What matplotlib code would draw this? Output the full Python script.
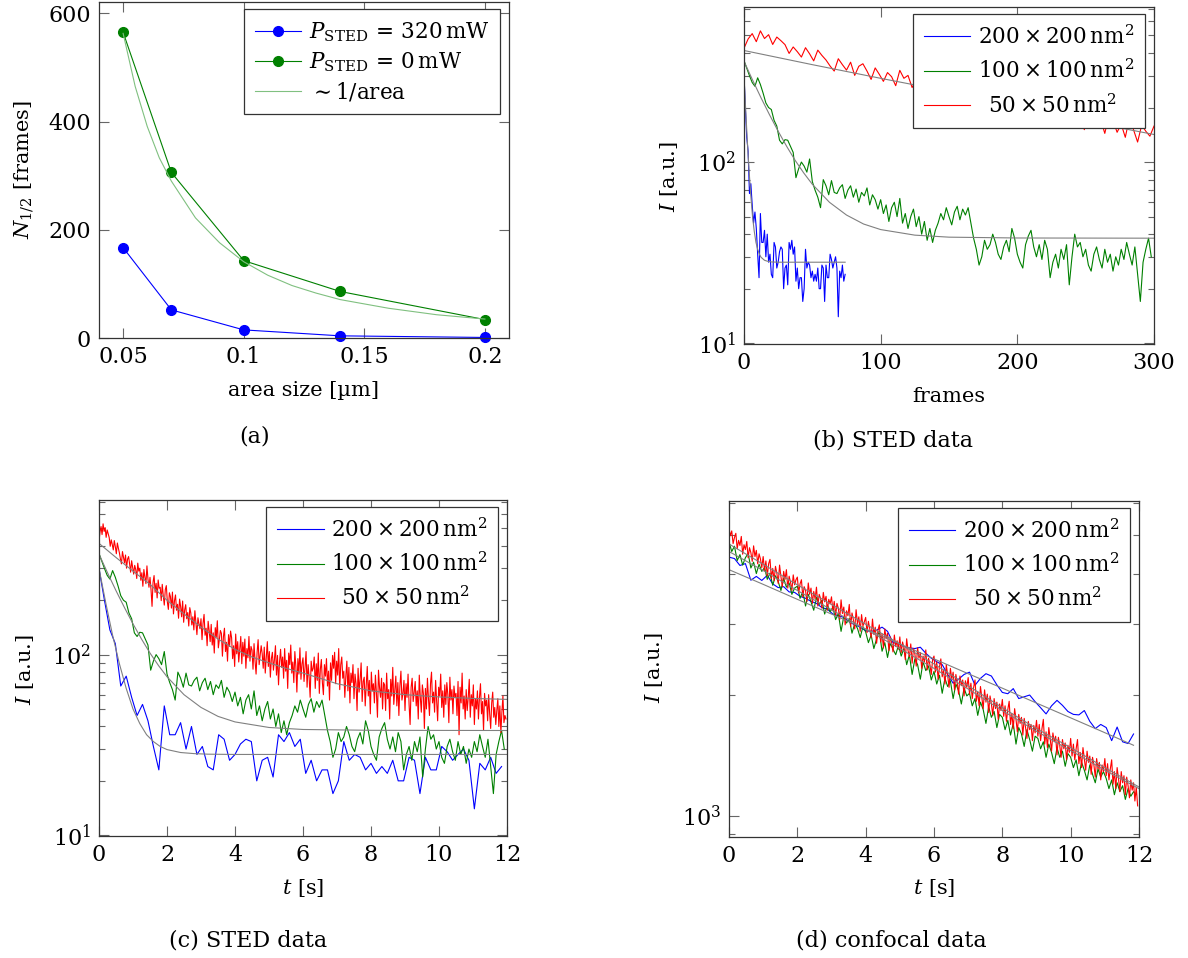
import numpy as np
import matplotlib
matplotlib.use("Agg")
import matplotlib.pyplot as plt
from matplotlib.ticker import FixedLocator, LogLocator, NullFormatter

plt.rcParams['font.family'] = ['DejaVu Serif']
plt.rcParams['mathtext.fontset'] = 'dejavuserif'
plt.rcParams['font.size'] = 15

# ---- (a) half-bleaching number vs. area size ----
area_size = [0.05, 0.07, 0.1, 0.14, 0.2]
n_half_320mw = [167, 52, 15, 4, 1]
n_half_0mw = [565, 306, 143, 86, 34]
inv_area_x = [0.05, 0.055, 0.06, 0.065, 0.07, 0.08, 0.09, 0.1, 0.11, 0.12, 0.13, 0.14, 0.16, 0.18, 0.2]
inv_area_y = [563, 465, 391, 333, 290, 222, 176, 141, 116, 97, 83, 71, 55, 43, 35]

# ---- STED traces (b, c) ----
dt_blue, dt_green, dt_red = 0.16, 0.04, 0.01   # s per frame
green_step, red_step = 2, 3                     # frames between stored samples

blue_sted = [300, 200, 137, 115, 67, 76, 58, 46, 53, 43,
             31, 23, 52, 36, 36, 42, 30, 40, 28, 31,
             24, 23, 36, 34, 26, 28, 32, 34, 33, 20,
             26, 27, 21, 36, 33, 37, 31, 34, 22, 26,
             20, 23, 23, 17, 20, 33, 26, 28, 27, 23,
             25, 22, 24, 22, 26, 20, 20, 27, 26, 17,
             27, 23, 23, 31, 29, 26, 28, 30, 26, 14,
             25, 23, 27, 22, 24]

green_sted = [363, 330, 300, 275, 262, 292, 268, 240, 212, 200,
              195, 170, 158, 132, 126, 133, 132, 122, 113, 82,
              92, 100, 95, 88, 104, 78, 70, 64, 56, 80,
              74, 66, 79, 68, 67, 72, 75, 63, 70, 74,
              64, 71, 60, 68, 65, 72, 58, 66, 62, 55,
              62, 52, 58, 47, 56, 60, 50, 63, 46, 52,
              43, 50, 55, 44, 50, 40, 47, 37, 43, 36,
              42, 46, 52, 48, 56, 50, 45, 53, 57, 48,
              55, 51, 56, 46, 38, 33, 27, 30, 37, 33,
              35, 40, 36, 31, 29, 34, 37, 32, 43, 38,
              31, 28, 26, 35, 39, 42, 34, 30, 35, 29,
              37, 33, 23, 28, 31, 26, 33, 29, 35, 21,
              30, 40, 34, 36, 30, 33, 27, 25, 31, 34,
              29, 26, 33, 28, 31, 25, 30, 27, 33, 29,
              36, 31, 27, 34, 24, 17, 28, 33, 38, 30]

red_sted = [425, 478, 512, 462, 530, 481, 505, 446, 490, 468,
            445, 398, 432, 407, 380, 428, 396, 362, 415, 388,
            366, 339, 318, 372, 345, 322, 356, 301, 338, 349,
            318, 286, 331, 305, 279, 312, 296, 264, 321, 290,
            301, 258, 284, 239, 296, 268, 247, 310, 262, 236,
            268, 229, 185, 252, 274, 221, 248, 206, 259, 233,
            236, 199, 245, 212, 188, 229, 241, 196, 178, 220,
            210, 181, 222, 168, 199, 214, 176, 190, 159, 203,
            185, 162, 198, 151, 177, 189, 158, 171, 144, 182,
            170, 146, 162, 137, 175, 151, 129, 160, 148, 139,
            158, 121, 149, 167, 128, 140, 112, 153, 136, 118,
            147, 113, 132, 102, 141, 125, 154, 109, 121, 136,
            131, 98, 126, 140, 104, 117, 92, 129, 111, 135,
            124, 95, 112, 86, 130, 101, 118, 91, 107, 126,
            89, 117, 98, 122, 84, 108, 96, 126, 92, 111,
            106, 83, 115, 92, 78, 103, 121, 88, 99, 112,
            101, 84, 110, 79, 97, 118, 86, 104, 75, 95,
            103, 82, 94, 112, 77, 99, 68, 91, 107, 85,
            97, 74, 108, 81, 93, 65, 102, 88, 113, 79,
            91, 70, 104, 86, 62, 95, 78, 109, 73, 89,
            96, 71, 85, 104, 66, 88, 75, 58, 92, 81,
            84, 97, 65, 89, 72, 102, 61, 83, 94, 70,
            60, 88, 76, 95, 67, 81, 56, 90, 72, 99,
            84, 103, 69, 92, 77, 108, 64, 88, 97, 74,
            81, 58, 76, 92, 63, 85, 54, 79, 70, 88,
            57, 78, 69, 49, 84, 62, 73, 90, 55, 71,
            75, 52, 68, 86, 59, 72, 47, 80, 63, 69,
            54, 77, 61, 45, 82, 66, 58, 74, 50, 70,
            68, 49, 79, 57, 64, 44, 73, 59, 85, 53,
            63, 76, 52, 70, 46, 67, 81, 56, 61, 72,
            49, 69, 58, 78, 53, 41, 66, 74, 55, 62,
            71, 52, 63, 44, 77, 58, 48, 68, 61, 39,
            65, 50, 74, 57, 46, 69, 80, 54, 62, 48,
            72, 55, 43, 66, 59, 78, 51, 63, 45, 68,
            53, 70, 60, 42, 75, 56, 64, 47, 67, 58,
            61, 46, 71, 36, 66, 54, 79, 50, 59, 44,
            64, 49, 58, 73, 45, 60, 52, 68, 41, 57,
            50, 63, 44, 58, 69, 47, 55, 38, 61, 52,
            56, 43, 60, 47, 39, 54, 62, 45, 51, 41,
            49, 57, 40, 52, 37, 48, 59, 42, 46, 44]

# fitted curves, time in s
fit_blue_t = [0, 0.2, 0.4, 0.6, 0.8, 1.0, 1.2, 1.4, 1.6, 1.8, 2.0, 2.4, 2.8, 3.2, 4, 6, 11.84, 12]
fit_blue = [300, 193, 128, 89, 65, 50, 41.5, 36, 33, 31, 29.8, 28.7, 28.3, 28.1, 28, 28, 28, 28]
fit_green_t = [0, 0.25, 0.5, 0.75, 1, 1.25, 1.5, 1.75, 2, 2.5, 3, 3.5, 4, 5, 6, 8, 12]
fit_green = [360, 284, 226, 182, 148, 122, 102, 87, 75.4, 60, 51, 45.5, 42.4, 39.5, 38.5, 38.1, 38]
fit_red_t = [0, 0.5, 1, 1.5, 2, 2.5, 3, 3.5, 4, 4.5, 5, 5.5, 6, 6.5, 7, 7.5, 8, 9, 10, 11, 12]
fit_red = [413, 345, 290, 245, 200, 168, 142, 122, 107, 97, 90, 84, 79, 74, 69, 66, 63, 60, 58.3, 57.2, 56.5]

# ---- confocal traces (d) ----
blue_conf = [4405, 4370, 4200, 4245, 3860, 3945, 3855, 3970, 3780, 3700,
             3720, 3610, 3600, 3520, 3480, 3420, 3380, 3300, 3270, 3180,
             3150, 3120, 3040, 2990, 2950, 2890, 2880, 2900, 2950, 2880,
             2700, 2685, 2640, 2620, 2610, 2630, 2540, 2470, 2420, 2380,
             2250, 2140, 2190, 2250, 2280, 2115, 2200, 2260, 2230, 2120,
             2030, 2015, 2075, 1960, 1980, 2000, 1925, 1860, 1795, 1880,
             1940, 1885, 1820, 1790, 1785, 1830, 1720, 1650, 1690, 1660,
             1540, 1665, 1530, 1515, 1600]

green_conf = [4806, 4550, 4690, 4320, 4470, 4210, 4390, 4500, 4140, 4280, 4010, 4230, 4060,
              4150, 3880, 4020, 3750, 3960, 3830, 3640, 3900, 3710, 3800, 3560, 3690,
              3730, 3480, 3620, 3330, 3560, 3410, 3250, 3500, 3360, 3440, 3180, 3350, 3220,
              3310, 3080, 3190, 2880, 3140, 3020, 3100, 2850, 3010, 2930, 2780, 2960,
              2870, 2700, 2820, 2610, 2760, 2880, 2570, 2700, 2480, 2690, 2600, 2520, 2660,
              2500, 2610, 2380, 2520, 2250, 2460, 2380, 2190, 2420, 2300, 2360, 2180,
              2290, 2130, 2240, 2020, 2200, 2100, 2170, 1960, 2130, 2050, 1900, 2080, 1990,
              2020, 1880, 1960, 1780, 1920, 1840, 1700, 1870, 1760, 1820, 1660, 1790,
              1760, 1640, 1730, 1590, 1700, 1510, 1660, 1600, 1490, 1640, 1550, 1450, 1580,
              1560, 1470, 1530, 1400, 1510, 1440, 1350, 1480, 1400, 1450, 1330, 1430,
              1400, 1320, 1380, 1260, 1360, 1300, 1230, 1340, 1270, 1210, 1310, 1250, 1290,
              1240, 1170, 1230, 1130, 1210, 1150, 1190, 1100, 1170, 1120, 1150, 1130]

red_conf = [5190, 4980, 5120, 4760, 4930, 5050, 4620, 4850, 4710, 4960, 4480, 4730, 4600,
            4820, 4390, 4650, 4520, 4300, 4700, 4420, 4580, 4240, 4490, 4360, 4150,
            4420, 4080, 4310, 3960, 4240, 4350, 3900, 4130, 3850, 4180, 4020, 3790, 4210,
            3940, 3720, 4060, 3880, 4100, 3690, 3950, 3820, 3640, 3980, 3760, 3870,
            3930, 3590, 3780, 3870, 3510, 3720, 3640, 3420, 3800, 3560, 3690, 3380, 3620,
            3470, 3710, 3330, 3560, 3480, 3290, 3600, 3410, 3520, 3250, 3460, 3370,
            3510, 3240, 3420, 3150, 3380, 3290, 3080, 3450, 3190, 3310, 2990, 3240, 3150,
            3360, 2960, 3200, 3080, 2920, 3260, 3010, 3130, 2880, 3170, 2970, 3040,
            3120, 2860, 3050, 2920, 2780, 3090, 2830, 2950, 2690, 2900, 2990, 2710, 2840,
            2620, 2920, 2760, 2850, 2580, 2790, 2700, 2560, 2820, 2640, 2730, 2600,
            2790, 2550, 2710, 2620, 2450, 2760, 2580, 2490, 2680, 2400, 2610, 2530, 2360,
            2620, 2470, 2550, 2330, 2500, 2420, 2590, 2310, 2470, 2380, 2250, 2450,
            2500, 2280, 2420, 2190, 2350, 2460, 2220, 2310, 2130, 2380, 2240, 2090, 2330,
            2190, 2280, 2060, 2250, 2150, 2010, 2230, 2110, 2180, 1990, 2170, 2090,
            2210, 2010, 2140, 1960, 2090, 2180, 1930, 2040, 1880, 2100, 1970, 1850, 2060,
            1920, 2010, 1810, 1990, 1900, 1780, 1960, 1850, 1920, 1740, 1900, 1830,
            1950, 1770, 1880, 1720, 1840, 1930, 1690, 1800, 1650, 1850, 1740, 1620, 1790,
            1700, 1760, 1590, 1750, 1660, 1560, 1720, 1640, 1690, 1540, 1680, 1610,
            1730, 1580, 1690, 1540, 1650, 1740, 1510, 1620, 1480, 1660, 1560, 1450, 1610,
            1530, 1580, 1420, 1570, 1500, 1400, 1550, 1470, 1520, 1380, 1500, 1440,
            1560, 1410, 1510, 1380, 1470, 1550, 1350, 1440, 1320, 1480, 1390, 1300, 1450,
            1360, 1410, 1270, 1400, 1340, 1250, 1390, 1310, 1360, 1230, 1340, 1290,
            1390, 1260, 1350, 1230, 1310, 1380, 1200, 1290, 1170, 1320, 1240, 1150, 1290,
            1210, 1260, 1130, 1250, 1190, 1110, 1230, 1160, 1210, 1090, 1180, 1060]

dt_blue_conf, dt_green_conf, dt_red_conf = 0.16, 0.08, 0.04
fit_conf_t = [0, 1, 2, 3, 4, 5, 6, 7, 8, 9, 10, 11, 12]
fit_red_conf = [4750, 4230, 3760, 3360, 3000, 2680, 2390, 2110, 1860, 1650, 1480, 1320, 1181]
fit_green_conf = [4550, 4080, 3640, 3260, 2915, 2610, 2330, 2070, 1830, 1625, 1455, 1300, 1170]
fit_blue_conf_t = [0, 1, 2, 3, 4, 5, 6, 7, 8, 9, 10, 11, 11.84]
fit_blue_conf = [4100, 3770, 3460, 3180, 2920, 2680, 2460, 2260, 2080, 1910, 1755, 1612, 1500]

legend_labels = [r'$200\times200\,\mathrm{nm}^2$',
                 r'$100\times100\,\mathrm{nm}^2$',
                 r'$\enspace50\times50\,\mathrm{nm}^2$']

BLUE, GREEN, RED, GRAY = '#0000ff', '#008000', '#ff0000', '#808080'
LIGHT_GREEN = '#80c080'
AXIS_COLOR, TICK_COLOR = '#333333', '#666666'
LW = 0.8

W, H = 1188, 958
fig = plt.figure(figsize=(W / 100, H / 100), dpi=100)


def add_axes(left, top, right, bottom):
    return fig.add_axes([left / W, 1 - bottom / H, (right - left) / W, (bottom - top) / H])


def style_axes(ax):
    for s in ax.spines.values():
        s.set_color(AXIS_COLOR)
        s.set_linewidth(0.9)
    ax.tick_params(which='both', direction='in', top=True, right=True,
                   color=TICK_COLOR, width=0.8, labelsize=16)
    ax.tick_params(which='major', length=7, pad=6)
    ax.tick_params(which='minor', length=4.5)


def place_labels(ax, xl, yl):
    ax.xaxis.set_label_coords(*xl)
    ax.yaxis.set_label_coords(*yl)
    ax.xaxis.label.set_va('center')
    ax.yaxis.label.set_va('center')


def add_legend(ax, spacing):
    leg = ax.legend(loc='upper right', bbox_to_anchor=(0.978, 0.978), borderaxespad=0,
                    fancybox=False, framealpha=1, edgecolor=AXIS_COLOR,
                    handlelength=2.15, handletextpad=0.35, borderpad=0.5,
                    labelspacing=spacing, fontsize=15.5)
    leg.get_frame().set_linewidth(0.9)


def log_axis(ax, ymin, ymax):
    ax.set_yscale('log')
    ax.set_ylim(ymin, ymax)
    ax.yaxis.set_minor_locator(LogLocator(base=10, subs=np.arange(2, 10)))
    ax.yaxis.set_minor_formatter(NullFormatter())


# (a)
ax_a = add_axes(99, 2, 509, 338)
ax_a.plot(area_size, n_half_320mw, '-o', color=BLUE, lw=LW, ms=7, clip_on=False,
          label=r'$P_{\mathrm{STED}}\,=\,320\,\mathrm{mW}$')
ax_a.plot(area_size, n_half_0mw, '-o', color=GREEN, lw=LW, ms=7, clip_on=False,
          label=r'$P_{\mathrm{STED}}\,=\,0\,\mathrm{mW}$')
ax_a.plot(inv_area_x, inv_area_y, color=LIGHT_GREEN, lw=LW, label=r'$\sim 1/\mathrm{area}$')
ax_a.set_xlim(0.04, 0.21)
ax_a.set_ylim(0, 621)
ax_a.xaxis.set_major_locator(FixedLocator([0.05, 0.1, 0.15, 0.2]))
ax_a.set_xticklabels(['0.05', '0.1', '0.15', '0.2'])
ax_a.yaxis.set_major_locator(FixedLocator([0, 200, 400, 600]))
ax_a.set_xlabel('area size [µm]')
ax_a.set_ylabel(r'$N_{1/2}$ [frames]')
style_axes(ax_a)
place_labels(ax_a, (0.5, -0.155), (-0.183, 0.5))
add_legend(ax_a, 0.3)

# (b) STED data over frames
ax_b = add_axes(744, 7, 1154, 344)
fr_blue = np.arange(len(blue_sted))
fr_green = np.arange(len(green_sted)) * green_step
fr_red = np.arange(len(red_sted)) * red_step
red_b = fr_red <= 300
ax_b.plot(fr_blue, blue_sted, color=BLUE, lw=LW, label=legend_labels[0])
ax_b.plot(fr_green, green_sted, color=GREEN, lw=LW, label=legend_labels[1])
ax_b.plot(fr_red[red_b], np.array(red_sted)[red_b], color=RED, lw=LW, label=legend_labels[2])
fb_t = np.array(fit_blue_t)
ax_b.plot(fb_t[fb_t <= 11.84] / dt_blue, np.array(fit_blue)[fb_t <= 11.84], color=GRAY, lw=LW)
ax_b.plot(np.array(fit_green_t) / dt_green, fit_green, color=GRAY, lw=LW)
fr_t = np.array(fit_red_t)
ax_b.plot(fr_t[fr_t <= 3] / dt_red, np.array(fit_red)[fr_t <= 3], color=GRAY, lw=LW)
ax_b.set_xlim(0, 300)
ax_b.xaxis.set_major_locator(FixedLocator([0, 100, 200, 300]))
log_axis(ax_b, 9.9, 718)
ax_b.set_xlabel('frames')
ax_b.set_ylabel(r'$I$ [a.u.]')
style_axes(ax_b)
place_labels(ax_b, (0.5, -0.157), (-0.183, 0.496))
add_legend(ax_b, 0.5)

# (c) STED data over time
ax_c = add_axes(99, 500, 507, 836)
ax_c.plot(fr_blue * dt_blue, blue_sted, color=BLUE, lw=LW, label=legend_labels[0])
ax_c.plot(fr_green * dt_green, green_sted, color=GREEN, lw=LW, label=legend_labels[1])
ax_c.plot(fr_red * dt_red, red_sted, color=RED, lw=LW, label=legend_labels[2])
ax_c.plot(fit_blue_t, fit_blue, color=GRAY, lw=LW)
ax_c.plot(fit_green_t, fit_green, color=GRAY, lw=LW)
ax_c.plot(fit_red_t, fit_red, color=GRAY, lw=LW)
ax_c.set_xlim(0, 12)
ax_c.xaxis.set_major_locator(FixedLocator(range(0, 13, 2)))
log_axis(ax_c, 9.9, 718)
ax_c.set_xlabel(r'$t$ [s]')
ax_c.set_ylabel(r'$I$ [a.u.]')
style_axes(ax_c)
place_labels(ax_c, (0.5, -0.155), (-0.181, 0.494))
add_legend(ax_c, 0.5)

# (d) confocal data
ax_d = add_axes(729, 501, 1139, 837)
ax_d.plot(np.arange(len(blue_conf)) * dt_blue_conf, blue_conf, color=BLUE, lw=LW, label=legend_labels[0])
ax_d.plot(np.arange(len(green_conf)) * dt_green_conf, green_conf, color=GREEN, lw=LW, label=legend_labels[1])
ax_d.plot(np.arange(len(red_conf)) * dt_red_conf, red_conf, color=RED, lw=LW, label=legend_labels[2])
ax_d.plot(fit_blue_conf_t, fit_blue_conf, color=GRAY, lw=LW)
ax_d.plot(fit_conf_t, fit_green_conf, color=GRAY, lw=LW)
ax_d.plot(fit_conf_t, fit_red_conf, color=GRAY, lw=LW)
ax_d.set_xlim(0, 12)
ax_d.xaxis.set_major_locator(FixedLocator(range(0, 13, 2)))
log_axis(ax_d, 887, 6076)
ax_d.set_xlabel(r'$t$ [s]')
ax_d.set_ylabel(r'$I$ [a.u.]')
style_axes(ax_d)
place_labels(ax_d, (0.5, -0.152), (-0.183, 0.503))
add_legend(ax_d, 0.5)

# sub-captions
for x, y, txt in [(255, 437, '(a)'), (893, 440, '(b) STED data'),
                  (248, 940, '(c) STED data'), (891, 940, '(d) confocal data')]:
    fig.text(x / W, 1 - y / H, txt, ha='center', va='center', fontsize=16)

fig.savefig('out.png', dpi=100, facecolor='white')
